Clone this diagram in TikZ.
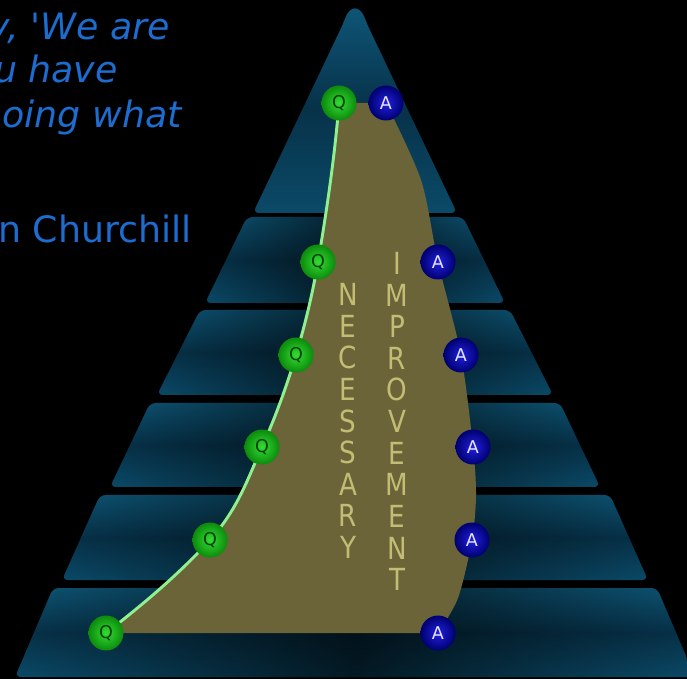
\documentclass[tikz,border=0pt]{standalone}
\usepackage{fontspec}
\setmainfont{DejaVu Sans}
\usepackage{tikz}
\usetikzlibrary{positioning,calc,fadings}
\definecolor{tierTop}{HTML}{0E5677}
\definecolor{tierMid}{HTML}{073249}
\definecolor{tierBot}{HTML}{0B4A68}
\definecolor{olivePad}{HTML}{6A6438}
\definecolor{letterKhaki}{HTML}{C2BC74}
\definecolor{quoteBlue}{HTML}{1D6CCF}
\definecolor{qGreen}{HTML}{33DD33}
\definecolor{qGreenDark}{HTML}{0C8A0C}
\definecolor{aBlue}{HTML}{2020E0}
\definecolor{aBlueDark}{HTML}{000070}
\definecolor{lineGreen}{HTML}{8EF08E}
\pgfdeclarelayer{tiers}
\pgfdeclarelayer{pad}
\pgfsetlayers{tiers,pad,main}
\tikzfading[name=midshadow, left color=transparent!100, right color=transparent!100, middle color=transparent!35]
% left edge of the pad, through the Q nodes
\newcommand\qcurve{(q1.center) .. controls (334.8,156) and (327,209) .. (q2.center)
  .. controls (312.7,293) and (305.3,324) .. (q3.center)
  .. controls (286.8,385.7) and (275.8,416.3) .. (q4.center)
  .. controls (248,478) and (238,509) .. (q5.center)
  .. controls (182,571) and (146.3,602) .. (q6.center)}

\begin{document}
\begin{tikzpicture}[
  x=0.3mm, y=-0.3mm,
  tier/.style={top color=tierTop, bottom color=tierBot, middle color=tierMid, rounded corners=5pt},
  tiershadow/.style={fill=black, path fading=midshadow, rounded corners=5pt},
  ball/.style={circle, minimum size=10.5mm, inner sep=0pt, font=\fontsize{15}{15}\selectfont},
  qball/.style={ball, inner color=qGreen, outer color=qGreenDark, text=black!75!green},
  aball/.style={ball, inner color=aBlue, outer color=aBlueDark, text=white!90!blue},
  stack/.style={align=center, text=letterKhaki, inner sep=0pt, xscale=0.86, font=\fontsize{26}{27}\selectfont},
  quote/.style={text=quoteBlue, inner sep=0pt, anchor=base east, font=\fontsize{31}{35}\selectfont}
]
\useasboundingbox (0,0) rectangle (687,679);
\clip (0,0) rectangle (687,679);

% --- pyramid tiers ---
\begin{pgfonlayer}{tiers}
\fill[black] (0,0) rectangle (687,679);
\shade[tier] (253,213) -- (343,24) .. controls (350,5) and (360,5) .. (367,24) -- (457,213) -- cycle;
\foreach \ytop/\ybot/\wtop/\wbot in {217/303/108/150, 310/395/155/198, 403/487/205/245, 495/580/255/293, 588/677/302/340}{
  \shade[tier] ({355-\wtop},\ytop) -- ({355+\wtop},\ytop) -- ({355+\wbot},\ybot) -- ({355-\wbot},\ybot) -- cycle;
  \fill[tiershadow] ({355-\wtop},\ytop) -- ({355+\wtop},\ytop) -- ({355+\wbot},\ybot) -- ({355-\wbot},\ybot) -- cycle;
}
\end{pgfonlayer}

% --- Q and A nodes ---
\node[qball] (q1) at (339,103) {Q};
\node[qball] (q2) at (318,262) {Q};
\node[qball] (q3) at (296,355) {Q};
\node[qball] (q4) at (262,447) {Q};
\node[qball] (q5) at (210,540) {Q};
\node[qball] (q6) at (106,633) {Q};
\node[aball] (a1) at (386,103) {A};
\node[aball] (a2) at (438,262) {A};
\node[aball] (a3) at (461,355) {A};
\node[aball] (a4) at (473,447) {A};
\node[aball] (a5) at (472,540) {A};
\node[aball] (a6) at (438,633) {A};

% --- pad between Q curve and A curve ---
\begin{pgfonlayer}{pad}
\fill[olivePad] \qcurve -- (a6.center)
  -- plot[smooth] coordinates {(a6.center) (458,598) (a5.center) (476,495) (a4.center) (a3.center) (a2.center) (421,180) (a1.center)}
  -- cycle;
\draw[lineGreen, line width=2.5pt] \qcurve;
\end{pgfonlayer}

% --- vertical words ---
\node[stack] (necessary) at (348,421) {N\\E\\C\\E\\S\\S\\A\\R\\Y};
\node[stack] (improvement) at (397,421.5) {I\\M\\P\\R\\O\\V\\E\\M\\E\\N\\T};

% --- quote, cut at the left ---
\node[quote] (line1) at (170,40) {\itshape y, \textquotesingle We are};
\node[quote] (line2) at (118,83) {\itshape u have};
\node[quote] (line3) at (182,128) {\itshape oing what};
\node[quote] (author) at (192,243) {n Churchill};
\end{tikzpicture}
\end{document}
